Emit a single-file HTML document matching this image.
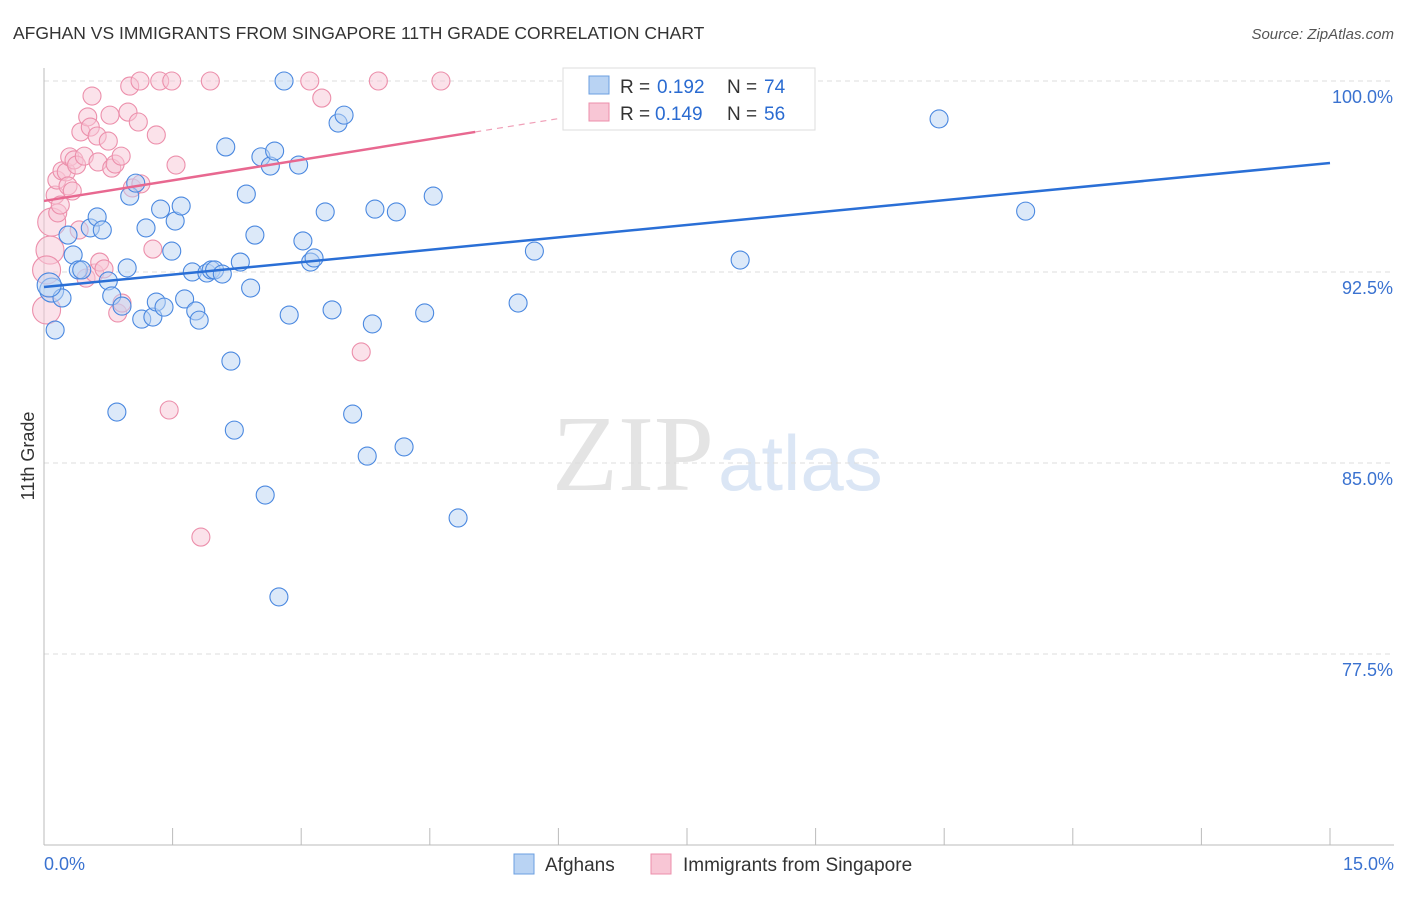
<!DOCTYPE html>
<html><head><meta charset="utf-8"><style>
body{margin:0;background:#fff;font-family:"Liberation Sans",sans-serif;}
svg text{font-family:"Liberation Sans",sans-serif;}
</style></head><body>
<svg id="chart" width="1406" height="892" viewBox="0 0 1406 892">
<text x="13" y="39" font-size="17.5" fill="#333">AFGHAN VS IMMIGRANTS FROM SINGAPORE 11TH GRADE CORRELATION CHART</text>
<text x="1394" y="39" font-size="15" fill="#555" text-anchor="end" font-style="italic">Source: ZipAtlas.com</text>
<text x="714" y="490" font-size="108" fill="#e4e4e4" text-anchor="end" style="font-family:'Liberation Serif',serif">ZIP</text>
<text x="718" y="490" font-size="78" fill="#dbe6f5">atlas</text>
<g id="grid"></g>
<g id="axes"></g>
<g id="pts"></g>
<g id="trends"></g>
<text transform="translate(34,456) rotate(-90)" font-size="18" fill="#333" text-anchor="middle">11th Grade</text>
<g>
<rect x="563" y="68" width="252" height="62" fill="#fff" stroke="#ddd"/>
<rect x="589" y="76" width="20" height="18" fill="#b9d3f3" stroke="#6b9fe0"/>
<text x="620" y="93" font-size="19" fill="#333">R =</text>
<text x="657" y="93" font-size="19" fill="#2a6bd1">0.192</text>
<text x="727" y="93" font-size="19" fill="#333">N =</text>
<text x="764" y="93" font-size="19" fill="#2a6bd1">74</text>
<rect x="589" y="103" width="20" height="18" fill="#f8c6d5" stroke="#ec8fab"/>
<text x="620" y="120" font-size="19" fill="#333">R =</text>
<text x="655" y="120" font-size="19" fill="#2a6bd1">0.149</text>
<text x="727" y="120" font-size="19" fill="#333">N =</text>
<text x="764" y="120" font-size="19" fill="#2a6bd1">56</text>
</g>
<g>
<rect x="514" y="854" width="20" height="20" fill="#b9d3f3" stroke="#6b9fe0"/>
<text x="545" y="871" font-size="19" fill="#333">Afghans</text>
<rect x="651" y="854" width="20" height="20" fill="#f8c6d5" stroke="#ec8fab"/>
<text x="683" y="871" font-size="19" fill="#333">Immigrants from Singapore</text>
</g>
</svg>
<script>
const xTicks=[0,1.5,3,4.5,6,7.5,9,10.5,12,13.5,15];
const yTicks=[100,92.5,85,77.5];
const yTickLabels=["100.0%","92.5%","85.0%","77.5%"];
const afghanX=[.09,.13,.21,.06,.28,.34,.40,.44,.54,.62,.68,.75,.79,.85,.91,.97,1.00,1.07,1.14,1.19,1.27,1.31,1.36,1.40,1.49,1.53,1.60,1.64,1.73,1.77,1.81,1.90,1.95,1.99,2.08,2.12,2.18,2.22,2.29,2.36,2.41,2.46,2.53,2.58,2.64,2.69,2.74,2.80,2.86,2.97,3.02,3.11,3.15,3.28,3.36,3.43,3.50,3.60,3.77,3.83,3.86,4.11,4.20,4.44,4.54,4.83,5.53,5.72,6.87,8.12,8.79,10.44,11.45];
const afghanY=[91.79,90.22,91.48,91.99,93.95,93.17,92.58,92.58,94.23,94.66,94.15,92.15,91.56,87.00,91.16,92.66,95.48,95.99,90.65,94.23,90.73,91.32,94.97,91.12,93.32,94.50,95.09,91.44,92.50,90.97,90.61,92.46,92.58,92.58,92.42,97.41,89.00,86.29,92.89,95.56,91.87,93.95,97.02,83.74,96.66,97.25,79.74,100.0,90.81,96.70,93.72,92.89,93.05,94.86,91.01,98.35,98.66,86.92,85.27,90.46,94.97,94.86,85.63,90.89,95.48,82.84,91.28,93.32,100.0,92.97,100.0,98.51,94.89];
const singX=[.03,.07,.09,.13,.15,.16,.19,.21,.26,.28,.30,.33,.35,.38,.41,.43,.47,.49,.51,.54,.56,.59,.62,.63,.65,.70,.75,.77,.79,.83,.86,.90,.91,.98,1.00,1.03,1.10,1.12,1.13,1.27,1.31,1.35,1.46,1.49,1.54,1.83,1.94,3.10,3.24,3.70,3.90,4.63,.03];
const singY=[91.01,93.36,94.46,95.52,96.11,94.82,95.13,96.47,96.43,95.88,97.02,95.68,96.90,96.70,94.15,98.00,97.05,92.26,98.59,98.19,99.41,92.46,97.84,96.82,92.89,92.62,97.64,98.66,96.58,96.74,90.89,97.05,91.28,98.78,99.80,95.80,98.39,100.0,95.96,93.40,97.88,100.0,87.08,100.0,96.70,82.09,100.0,100.0,99.33,89.36,100.0,100.0,92.58];
const afghanTrend=[91.91,96.78];
const singTrend=[95.29,98.0];
const singTrendEnd=5.03;
const X=v=>44+(v/15)*1286, Y=v=>81+(100-v)/0.03927;
const NS='http://www.w3.org/2000/svg';
function mk(p,t,a){const e=document.createElementNS(NS,t);for(const k in a)e.setAttribute(k,a[k]);p.appendChild(e);return e;}
const grid=document.getElementById('grid'),axes=document.getElementById('axes'),pts=document.getElementById('pts'),tr=document.getElementById('trends');
yTicks.forEach((v,i)=>{
 const l=mk(grid,'line',{x1:44,x2:1394,y1:Y(v),y2:Y(v),stroke:'#ddd','stroke-dasharray':'5,4'});
 
 
 const t=mk(axes,'text',{x:1393,y:Y(v)+22,'font-size':18,fill:'#3a72d0','text-anchor':'end'});t.textContent=yTickLabels[i];
 
 
});
mk(axes,'line',{x1:44,x2:44,y1:68,y2:845,stroke:'#bbb'});
mk(axes,'line',{x1:44,x2:1394,y1:845,y2:845,stroke:'#bbb'});
xTicks.forEach(v=>{const l=mk(axes,'line',{x1:X(v),x2:X(v),y1:828,y2:845,stroke:'#bbb'});
 
 });
let t1=mk(axes,'text',{x:44,y:870,'font-size':18,fill:'#3a72d0'});t1.textContent='0.0%';


let t2=mk(axes,'text',{x:1394,y:870,'font-size':18,fill:'#3a72d0','text-anchor':'end'});t2.textContent='15.0%';


function draw(xs,ys,fill,stroke,name){xs.forEach((x,i)=>{const r=x<0.1?(name==='singapore-point'?14:12):9;
 const c=mk(pts,'circle',{cx:X(x),cy:Y(ys[i]),r:r,fill:fill,'fill-opacity':0.5,stroke:stroke,'stroke-width':1.1});
 
 });}
draw(singX,singY,'#f8c6d5','#ec8fab','singapore-point');
draw(afghanX,afghanY,'#b9d3f3','#4a88e0','afghan-point');
const bl=mk(tr,'line',{x1:X(0),y1:Y(afghanTrend[0]),x2:X(15),y2:Y(afghanTrend[1]),stroke:'#2a6fd6','stroke-width':2.5});


const pl=mk(tr,'line',{x1:X(0),y1:Y(singTrend[0]),x2:X(singTrendEnd),y2:Y(singTrend[1]),stroke:'#e86890','stroke-width':2.5});


const slope=(singTrend[1]-singTrend[0])/singTrendEnd;
const pd=mk(tr,'line',{x1:X(singTrendEnd),y1:Y(singTrend[1]),x2:X(6),y2:Y(singTrend[0]+slope*6),stroke:'#f0a0b8','stroke-width':1.2,'stroke-dasharray':'6,5'});


</script>
</body></html>
